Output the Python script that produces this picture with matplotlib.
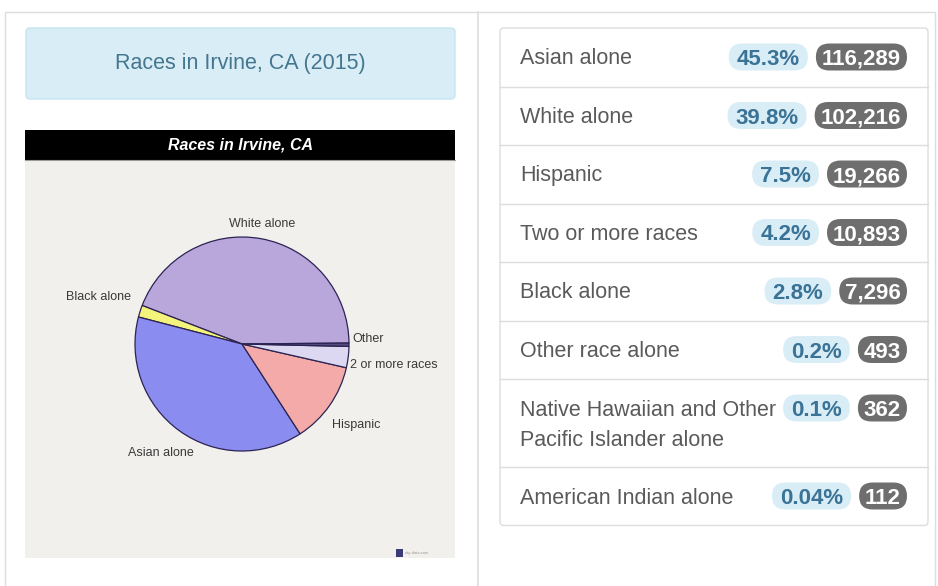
import matplotlib
matplotlib.use("Agg")
import matplotlib.pyplot as plt
from matplotlib.patches import FancyBboxPatch, Rectangle

plt.rcParams['font.family'] = ['Liberation Sans', 'DejaVu Sans']

# pie picture (left side)
pie_labels = ["White alone", "Black alone", "Asian alone", "Hispanic", "2 or more races", "Other"]
pie_values = [44.0, 1.8, 38.2, 12.3, 3.2, 0.5]
pie_colors = ["#b9a7dc", "#f4f47c", "#8a8cf0", "#f5aaaa", "#dcd8f2", "#55487c"]

# table (right side)
races = ["Asian alone", "White alone", "Hispanic", "Two or more races", "Black alone",
         "Other race alone", "Native Hawaiian and Other\nPacific Islander alone",
         "American Indian alone"]
shares = ["45.3%", "39.8%", "7.5%", "4.2%", "2.8%", "0.2%", "0.1%", "0.04%"]
counts = [116289, 102216, 19266, 10893, 7296, 493, 362, 112]

W, H = 938, 586
fig = plt.figure(figsize=(W / 100, H / 100), dpi=100)
bg = fig.add_axes([0, 0, 1, 1])
bg.set_xlim(0, W)
bg.set_ylim(H, 0)
bg.axis('off')

# page cards
bg.add_patch(Rectangle((5, 12), 930, 600, fill=False, ec='#dddddd', lw=1))
bg.plot([478, 478], [12, H], color='#dddddd', lw=1.2)

# title box
bg.add_patch(FancyBboxPatch((26, 28), 429, 71, boxstyle='round,pad=0,rounding_size=4',
                            fc='#d9edf7', ec='#c4e6ef', lw=1))
bg.text(240.5, 63.5, "Races in Irvine, CA (2015)", ha='center', va='center',
        fontsize=15.5, color='#44768f')

# inset picture frame
bg.add_patch(Rectangle((25, 130), 430, 30, fc='black', ec='none'))
bg.add_patch(Rectangle((25, 160), 430, 398, fc='#f2f0ed', ec='none'))
bg.plot([25, 455], [160, 160], color='#999999', lw=0.8)
bg.text(240, 145, "Races in Irvine, CA", ha='center', va='center', fontsize=11.5,
        color='white', fontweight='bold', fontstyle='italic')
bg.add_patch(Rectangle((396, 549), 7, 8, fc='#3b3b7a', ec='none'))
bg.text(405, 553, "city-data.com", ha='left', va='center', fontsize=3, color='#999999')

# pie
px0, py0, pw, ph = 25, 160, 430, 398
ax = fig.add_axes([px0 / W, 1 - (py0 + ph) / H, pw / W, ph / H])
cx, cy = 242 - px0, (py0 + ph) - 344
ax.pie(pie_values, colors=pie_colors, startangle=0.5, center=(cx, cy), radius=107,
       wedgeprops=dict(edgecolor='#2b2352', linewidth=0.9))
ax.set_xlim(0, pw)
ax.set_ylim(0, ph)
ax.set_aspect('auto')

label_pos = [(262, 224, 'center'), (131, 297, 'right'), (194, 453, 'right'),
             (332, 425, 'left'), (350, 365, 'left'), (352, 339, 'left')]
for name, (lx, ly, ha) in zip(pie_labels, label_pos):
    ax.text(lx - px0, (py0 + ph) - ly, name, ha=ha, va='center', fontsize=9, color='#3a3a3a')

# table card
tx0, ty0, tw = 500, 28, 428
row_h = [58.5] * 6 + [88, 58.5]
bg.add_patch(FancyBboxPatch((tx0, ty0), tw, sum(row_h), boxstyle='round,pad=0,rounding_size=4',
                            fc='white', ec='#dddddd', lw=1))

renderer = fig.canvas.get_renderer()
top = ty0
for i, (race, share, count) in enumerate(zip(races, shares, counts)):
    if i > 0:
        bg.plot([tx0, tx0 + tw], [top, top], color='#dddddd', lw=1)
    mid = top + 29
    for j, line in enumerate(race.split('\n')):
        bg.text(520, mid + 7.5 + j * 30, line, ha='left', va='baseline',
                fontsize=15.5, color='#5a5a5a')

    # count badge
    right = 907
    t = bg.text(right - 6, mid + 8, f"{count:,}", ha='right', va='baseline',
                fontsize=16, fontweight='bold', color='white', zorder=4)
    w = t.get_window_extent(renderer).width + 12
    bg.add_patch(FancyBboxPatch((right - w, mid - 13.5), w, 27,
                                boxstyle='round,pad=0,rounding_size=13.5',
                                fc='#6e6e6e', ec='none', zorder=3))
    # share badge
    right = right - w - 8
    t = bg.text(right - 8, mid + 8, share, ha='right', va='baseline',
                fontsize=16, fontweight='bold', color='#3a7396', zorder=4)
    w = t.get_window_extent(renderer).width + 16
    bg.add_patch(FancyBboxPatch((right - w, mid - 13.5), w, 27,
                                boxstyle='round,pad=0,rounding_size=13.5',
                                fc='#d9edf7', ec='none', zorder=3))
    top += row_h[i]

fig.savefig("out.png", dpi=100, facecolor='white')
